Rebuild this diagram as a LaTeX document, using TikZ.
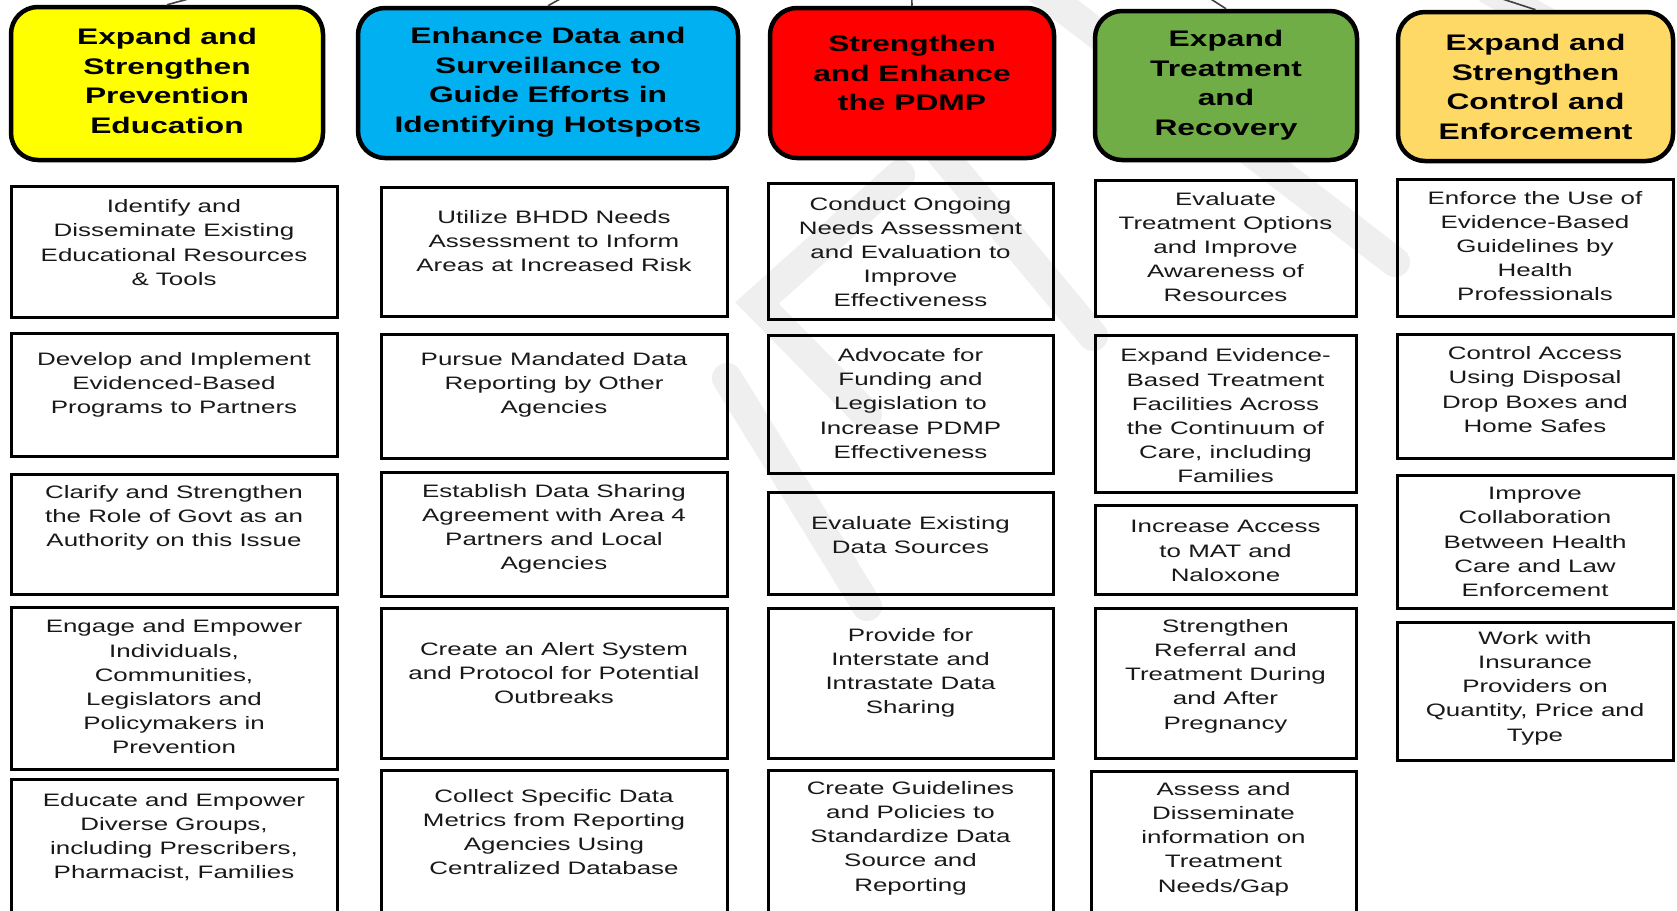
\documentclass[tikz,border=0pt]{standalone}
\usepackage{fontspec}
\newfontfamily\bodyfont[FakeStretch=1.44]{Liberation Sans}
\newfontfamily\headfont[FakeStretch=1.41]{Liberation Sans}
\definecolor{hyellow}{HTML}{FFFF00}
\definecolor{hblue}{HTML}{00B0F0}
\definecolor{hred}{HTML}{FF0000}
\definecolor{hgreen}{HTML}{70AD47}
\definecolor{hgold}{HTML}{FFD966}
\definecolor{wmgray}{HTML}{EFEFEF}
\tikzset{
  bx/.style={draw=black, line width=3pt, inner sep=0pt, rectangle},
  bt/.style={font=\bodyfont\fontsize{18}{24.2}\selectfont, align=center, inner sep=0pt, text=black!90},
  hd/.style={draw=black, line width=4.5pt, rounded corners=27pt, inner sep=0pt, rectangle},
  ht/.style={font=\headfont\bfseries\fontsize{22.5}{29.5}\selectfont, align=center, inner sep=0pt, text=black},
  conn/.style={draw=black!75, line width=1.6pt},
  wm/.style={draw=wmgray, line width=30pt, line cap=round}
}
\newcommand\bxx[7]{%
  \node[bx, minimum width={#4-#2}, minimum height={#5-#3}] (#1) at ({(#2+#4)/2},{(#3+#5)/2}) {};
  \node[bt] (#1t) at ({(#2+#4)/2},#6) {#7};}
\newcommand\hdd[8]{%
  \node[hd, fill=#8, minimum width={#4-#2}, minimum height={#5-#3}] (#1) at ({(#2+#4)/2},{(#3+#5)/2}) {};
  \node[ht] (#1t) at ({(#2+#4)/2},#6) {#7};}
\begin{document}
\begin{tikzpicture}[x=1pt,y=-1pt]
\useasboundingbox (0,0) rectangle (1677,910);
\fill[white] (0,0) rectangle (1677,910);
\clip (0,0) rectangle (1677,910);
% watermark
\draw[wm] (940,152) -- (1093,336);
\draw[wm] (900,175) -- (757,303) -- (867,415);
\draw[wm] (727,378) -- (867,606);
\draw[wm] (1040,-10) -- (1395,262);
\draw[wm] (1490,-10) -- (1560,30);
% headers
\coordinate (parent) at (907,-195);
\hdd{h1}{11}{7}{323}{160}{81}{Expand and\\Strengthen\\Prevention\\Education}{hyellow}
\hdd{h2}{358}{8}{738}{158}{82}{Enhance Data and\\Surveillance to\\Guide Efforts in\\Identifying Hotspots}{hblue}
\hdd{h3}{770}{8}{1054}{158}{73}{Strengthen\\and Enhance\\the PDMP}{hred}
\hdd{h4}{1095}{11}{1357}{160}{85}{Expand\\Treatment\\and\\Recovery}{hgreen}
\hdd{h5}{1398}{12}{1673}{161}{87}{Expand and\\Strengthen\\Control and\\Enforcement}{hgold}
\foreach \h in {h1,h2,h3,h4,h5} {\draw[conn] (\h.north) -- (parent);}
% column 1
\bxx{a1}{11}{186}{337}{317}{242.5}{Identify and\\Disseminate Existing\\Educational Resources\\\& Tools}
\bxx{a2}{11}{333}{337}{456}{385}{Develop and Implement\\Evidenced-Based\\Programs to Partners}
\bxx{a3}{11}{474}{337}{594}{518}{Clarify and Strengthen\\the Role of Govt as an\\Authority on this Issue}
\bxx{a4}{11}{607}{337}{769}{687}{Engage and Empower\\Individuals,\\Communities,\\Legislators and\\Policymakers in\\Prevention}
\bxx{a5}{11}{779}{337}{925}{837}{Educate and Empower\\Diverse Groups,\\including Prescribers,\\Pharmacist, Families}
% column 2
\bxx{b1}{381}{187}{727}{316}{241}{Utilize BHDD Needs\\Assessment to Inform\\Areas at Increased Risk}
\bxx{b2}{381}{334}{727}{458}{385}{Pursue Mandated Data\\Reporting by Other\\Agencies}
\bxx{b3}{381}{472}{727}{596}{529}{Establish Data Sharing\\Agreement with Area 4\\Partners and Local\\Agencies}
\bxx{b4}{381}{608}{727}{758}{673}{Create an Alert System\\and Protocol for Potential\\Outbreaks}
\bxx{b5}{381}{770}{727}{925}{832}{Collect Specific Data\\Metrics from Reporting\\Agencies Using\\Centralized Database}
% column 3
\bxx{c1}{768}{183}{1053}{319}{252}{Conduct Ongoing\\Needs Assessment\\and Evaluation to\\Improve\\Effectiveness}
\bxx{c2}{768}{335}{1053}{473}{403.5}{Advocate for\\Funding and\\Legislation to\\Increase PDMP\\Effectiveness}
\bxx{c3}{768}{492}{1053}{594}{535}{Evaluate Existing\\Data Sources}
\bxx{c4}{768}{608}{1053}{758}{673}{Provide for\\Interstate and\\Intrastate Data\\Sharing}
\bxx{c5}{768}{770}{1053}{925}{838}{Create Guidelines\\and Policies to\\Standardize Data\\Source and\\Reporting}
% column 4
\bxx{d1}{1095}{180}{1356}{316}{247}{Evaluate\\Treatment Options\\and Improve\\Awareness of\\Resources}
\bxx{d2}{1095}{335}{1356}{492}{416}{Expand Evidence-\\Based Treatment\\Facilities Across\\the Continuum of\\Care, including\\Families}
\bxx{d3}{1095}{505}{1356}{594}{551}{Increase Access\\to MAT and\\Naloxone}
\bxx{d4}{1095}{608}{1356}{758}{676}{Strengthen\\Referral and\\Treatment During\\and After\\Pregnancy}
\bxx{d5}{1091}{771}{1356}{925}{839}{Assess and\\Disseminate\\information on\\Treatment\\Needs/Gap}
% column 5
\bxx{e1}{1397}{179}{1673}{316}{246}{Enforce the Use of\\Evidence-Based\\Guidelines by\\Health\\Professionals}
\bxx{e2}{1397}{334}{1673}{458}{389.5}{Control Access\\Using Disposal\\Drop Boxes and\\Home Safes}
\bxx{e3}{1397}{475}{1673}{608}{542}{Improve\\Collaboration\\Between Health\\Care and Law\\Enforcement}
\bxx{e4}{1397}{622}{1673}{760}{688}{Work with\\Insurance\\Providers on\\Quantity, Price and\\Type}
\end{tikzpicture}
\end{document}
